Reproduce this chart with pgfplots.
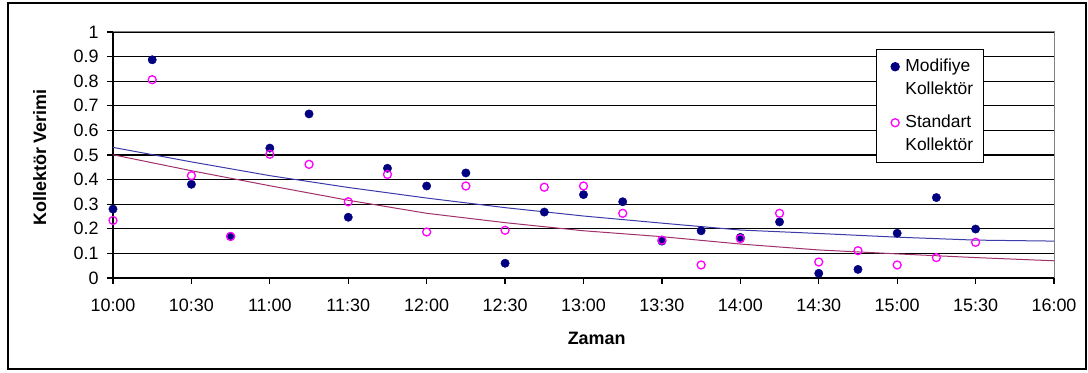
\documentclass[border=0pt]{standalone}
\usepackage{fontspec}
\setmainfont{Liberation Sans}
\usepackage{pgfplots}
\pgfplotsset{compat=1.18}
\definecolor{navyc}{HTML}{000080}
\definecolor{magc}{HTML}{FF00FF}
\definecolor{trendb}{HTML}{3A3AA8}
\definecolor{trendr}{HTML}{A0306A}
\newcommand{\ls}{\fontsize{17.5}{22}\selectfont\rule{0pt}{16.5bp}}
\begin{document}
\begin{tikzpicture}[x=1bp,y=1bp]
\useasboundingbox (0,0) rectangle (1088,372);
\draw[black, line width=1.3bp] (8,3) rectangle (1086,369);
\begin{axis}[
  at={(113bp,94bp)}, anchor=south west,
  scale only axis, width=941bp, height=246bp,
  xmin=10, xmax=16, ymin=0, ymax=1,
  xtick={10,10.5,11,11.5,12,12.5,13,13.5,14,14.5,15,15.5,16},
  xticklabels={10:00,10:30,11:00,11:30,12:00,12:30,13:00,13:30,14:00,14:30,15:00,15:30,16:00},
  ytick={0,0.1,0.2,0.3,0.4,0.5,0.6,0.7,0.8,0.9,1},
  yticklabel style={/pgf/number format/fixed, /pgf/number format/precision=1, /pgf/number format/assume math mode=true},
  ticklabel style={font=\fontsize{18}{20}\selectfont},
  xticklabel style={yshift=-11bp},
  yticklabel style={xshift=-5bp},
  ymajorgrids, grid style={black, line width=1.2bp},
  axis x line*=bottom, axis y line*=left,
  axis line style={black, line width=1.2bp, -},
  tick align=outside, major tick length=6bp, tick style={black, line width=1.2bp},
  xlabel={Zaman}, ylabel={Kollektör Verimi},
  xlabel style={font=\bfseries\fontsize{18}{20}\selectfont, at={(axis description cs:0.514,-0.244)}, anchor=center},
  ylabel style={font=\bfseries\fontsize{18}{20}\selectfont, at={(axis description cs:-0.078,0.49)}, anchor=center},
  legend style={draw=black, line width=1bp, fill=white, at={(axis description cs:0.811,0.931)}, anchor=north west,
    row sep=0pt, column sep=6bp,
    nodes={inner sep=0pt, text depth=6bp}, inner xsep=10bp, inner ysep=6bp},
  legend cell align=left,
  clip=false,
]
\addplot[trendb, line width=1bp, forget plot] coordinates {
(10,0.531) (10.5,0.472) (11,0.416) (11.5,0.368) (12,0.325) (12.5,0.286) (13,0.252) (13.5,0.223) (14,0.195) (14.5,0.181) (15,0.166) (15.5,0.154) (16,0.150)};
\addplot[trendr, line width=1bp, forget plot] coordinates {
(10,0.501) (10.5,0.436) (11,0.375) (11.5,0.316) (12,0.263) (12.5,0.225) (13,0.192) (13.5,0.168) (14,0.138) (14.5,0.114) (15,0.098) (15.5,0.083) (16,0.070)};
\addplot[only marks, mark=*, mark size=4.2bp, color=navyc] table {
x y
10.00 0.280
10.25 0.887
10.50 0.381
10.75 0.169
11.00 0.528
11.25 0.667
11.50 0.247
11.75 0.446
12.00 0.374
12.25 0.427
12.50 0.060
12.75 0.268
13.00 0.339
13.25 0.310
13.50 0.150
13.75 0.192
14.00 0.165
14.25 0.228
14.50 0.019
14.75 0.035
15.00 0.182
15.25 0.327
15.50 0.199
};
\addlegendentry{\ls Modifiye}
\addlegendimage{legend image code/.code={}}
\addlegendentry{\ls Kollektör}
\addlegendimage{legend image code/.code={}}
\addlegendentry{\rule{0pt}{5bp}}
\addplot[only marks, mark=o, mark size=4bp, draw=magc, line width=1.3bp] table {
x y
10.00 0.234
10.25 0.806
10.50 0.416
10.75 0.169
11.00 0.503
11.25 0.462
11.50 0.310
11.75 0.421
12.00 0.187
12.25 0.374
12.50 0.194
12.75 0.369
13.00 0.374
13.25 0.263
13.50 0.154
13.75 0.053
14.00 0.160
14.25 0.263
14.50 0.065
14.75 0.111
15.00 0.053
15.25 0.083
15.50 0.145
};
\addlegendentry{\ls Standart}
\addlegendimage{legend image code/.code={}}
\addlegendentry{\ls Kollektör}
\draw[gray, line width=1bp] (rel axis cs:0,1) -- (rel axis cs:1,1) -- (rel axis cs:1,0);
\end{axis}
\end{tikzpicture}
\end{document}
